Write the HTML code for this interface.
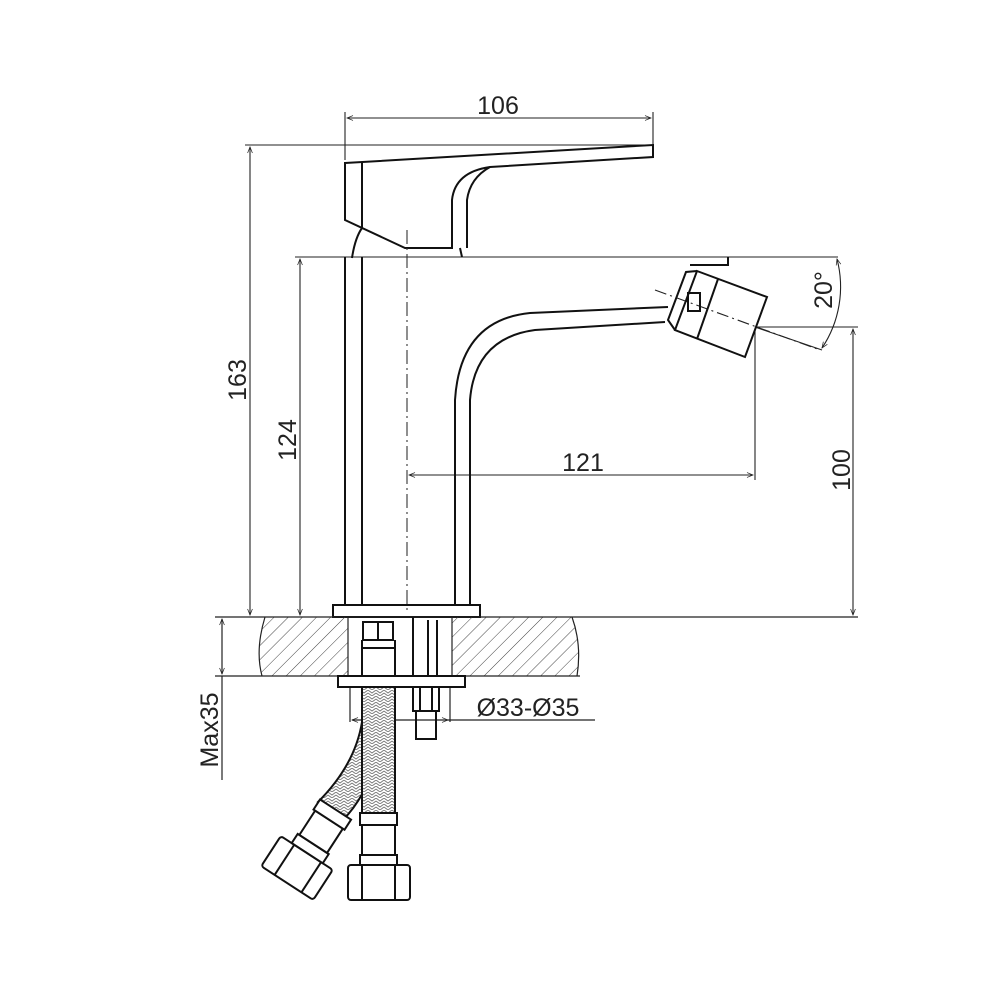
<!DOCTYPE html>
<html><head><meta charset="utf-8"><style>
html,body{margin:0;padding:0;background:#fff;}
svg{display:block}
text{font-family:"Liberation Sans",sans-serif;fill:#222}
</style></head><body>
<svg width="1000" height="1000" viewBox="0 0 1000 1000" xmlns="http://www.w3.org/2000/svg">
<defs>
<pattern id="hatch" width="10" height="10" patternUnits="userSpaceOnUse" patternTransform="rotate(45)">
<line x1="0" y1="0" x2="0" y2="10" stroke="#444" stroke-width="1"/>
</pattern>
<pattern id="braid" width="8" height="6" patternUnits="userSpaceOnUse">
<path d="M0 0 L4 3 L8 0 M0 3 L4 6 L8 3" stroke="#777" stroke-width="0.9" fill="none"/>
</pattern>
<marker id="ar" viewBox="0 0 10 10" refX="10" refY="5" markerWidth="8" markerHeight="6" orient="auto-start-reverse" markerUnits="userSpaceOnUse">
<path d="M0 1 L10 5 L0 9" fill="none" stroke="#222" stroke-width="1.2"/>
</marker>
</defs>
<g fill="none" stroke="#222" stroke-width="1.1">
<line x1="345" y1="112" x2="345" y2="160"/>
<line x1="653" y1="112" x2="653" y2="145"/>
<line x1="347" y1="118" x2="651" y2="118" marker-start="url(#ar)" marker-end="url(#ar)"/>
<line x1="245" y1="145" x2="653" y2="145"/>
<line x1="295" y1="257" x2="838" y2="257"/>
<line x1="250" y1="147" x2="250" y2="615" marker-start="url(#ar)" marker-end="url(#ar)"/>
<line x1="300" y1="259" x2="300" y2="615" marker-start="url(#ar)" marker-end="url(#ar)"/>
<line x1="409" y1="475" x2="753" y2="475" marker-start="url(#ar)" marker-end="url(#ar)"/>
<line x1="755" y1="330" x2="755" y2="480"/>
<line x1="755" y1="327" x2="858" y2="327"/>
<line x1="853" y1="329" x2="853" y2="615" marker-start="url(#ar)" marker-end="url(#ar)"/>
<line x1="755" y1="327" x2="822" y2="350"/>
<path d="M837 259 A110 110 0 0 1 822 348" marker-start="url(#ar)" marker-end="url(#ar)"/>
<line x1="655" y1="290" x2="820" y2="350" stroke-dasharray="12 4 2 4"/>
</g>
<g fill="none" stroke="#111" stroke-width="2">
<path d="M345 163 L653 145 L653 157 L490 167 Q455 172 452 200 L452 248 L405 248 L345 220 Z"/>
<line x1="362" y1="162" x2="362" y2="228"/>
<path d="M490 167 Q470 178 467 200 L467 248"/>
<path d="M352 258 Q355 238 362 228"/>
<line x1="460" y1="248" x2="462" y2="257"/>
<line x1="345" y1="257" x2="345" y2="605"/>
<line x1="362" y1="257" x2="362" y2="605"/>
<path d="M728 257 L728 265 L690 265"/>
<path d="M668 307 L530 313 Q460 320 455 400 L455 605"/>
<path d="M665 322 L535 330 Q475 338 470 400 L470 605"/>
<path d="M697 271 L767 297 L745 357 L675 330 Z"/>
<line x1="718" y1="279" x2="697" y2="339"/>
<path d="M697 271 L686 272 L668 320 L675 330"/>
<rect x="688" y="293" width="12" height="18"/>
<rect x="333" y="605" width="147" height="12"/>
</g>
<line x1="407" y1="230" x2="407" y2="612" stroke="#333" stroke-width="1.1" stroke-dasharray="14 4 2 4"/>
<path d="M265 617 L348 617 L348 676 L262 676 Q255 650 265 617 Z" fill="url(#hatch)" stroke="none"/>
<path d="M452 617 L572 617 Q582 645 577 676 L452 676 Z" fill="url(#hatch)" stroke="none"/>
<g fill="none" stroke="#222" stroke-width="1.2">
<line x1="215" y1="617" x2="858" y2="617"/>
<line x1="215" y1="676" x2="580" y2="676"/>
<path d="M265 617 Q255 650 262 676"/>
<path d="M572 617 Q582 645 577 676"/>
<line x1="348" y1="617" x2="348" y2="676"/>
<line x1="452" y1="617" x2="452" y2="676"/>
<line x1="222" y1="619" x2="222" y2="674" marker-start="url(#ar)" marker-end="url(#ar)"/>
<line x1="222" y1="676" x2="222" y2="780"/>
<line x1="350" y1="687" x2="350" y2="722"/>
<line x1="450" y1="687" x2="450" y2="722"/>
<line x1="352" y1="720" x2="448" y2="720" marker-start="url(#ar)" marker-end="url(#ar)"/>
<line x1="448" y1="720" x2="595" y2="720"/>
</g>
<g fill="none" stroke="#111" stroke-width="2">
<rect x="338" y="676" width="127" height="11"/>
<rect x="363" y="622" width="30" height="18"/>
<line x1="378" y1="622" x2="378" y2="640"/>
<line x1="362" y1="640" x2="362" y2="676"/>
<line x1="395" y1="640" x2="395" y2="676"/>
<line x1="362" y1="648" x2="395" y2="648"/>
<line x1="413" y1="617" x2="413" y2="676"/>
<line x1="428" y1="620" x2="428" y2="676"/>
<line x1="437" y1="620" x2="437" y2="676"/>
<rect x="413" y="687" width="26" height="24"/>
<line x1="420" y1="687" x2="420" y2="711"/>
<line x1="432" y1="687" x2="432" y2="711"/>
<rect x="416" y="711" width="20" height="28"/>
</g>
<!-- angled hose (behind straight) -->
<path d="M362 722 Q355 765 318 802 L343 820 Q372 790 380 740 L380 722 Z" fill="url(#braid)" stroke="#111" stroke-width="2"/>
<g transform="translate(297,868) rotate(33)" fill="#fff" stroke="#111" stroke-width="2">
<rect x="-31" y="-18" width="62" height="36" rx="3"/>
<line x1="-15" y1="-18" x2="-15" y2="18"/>
<line x1="17" y1="-18" x2="17" y2="18"/>
<rect x="-18" y="-29" width="37" height="11"/>
<rect x="-16" y="-58" width="33" height="29"/>
<rect x="-18" y="-70" width="37" height="12"/>
</g>
<!-- straight hose -->
<rect x="362" y="687" width="33" height="126" fill="#fff" stroke="none"/>
<rect x="362" y="687" width="33" height="126" fill="url(#braid)" stroke="#111" stroke-width="2"/>
<g fill="none" stroke="#111" stroke-width="2">
<rect x="360" y="813" width="37" height="12"/>
<rect x="362" y="825" width="33" height="30"/>
<rect x="360" y="855" width="37" height="10"/>
<rect x="348" y="865" width="62" height="35" rx="3"/>
<line x1="362" y1="865" x2="362" y2="900"/>
<line x1="395" y1="865" x2="395" y2="900"/>
</g>
<text x="498" y="114" font-size="25" text-anchor="middle">106</text>
<text x="583" y="471" font-size="25" text-anchor="middle">121</text>
<text x="528" y="716" font-size="25" text-anchor="middle">Ø33-Ø35</text>
<text transform="translate(246,380) rotate(-90)" font-size="25" text-anchor="middle">163</text>
<text transform="translate(296,440) rotate(-90)" font-size="25" text-anchor="middle">124</text>
<text transform="translate(850,470) rotate(-90)" font-size="25" text-anchor="middle">100</text>
<text transform="translate(832,290) rotate(-90)" font-size="25" text-anchor="middle">20°</text>
<text transform="translate(218,730) rotate(-90)" font-size="25" text-anchor="middle">Max35</text>
</svg>
</body></html>
